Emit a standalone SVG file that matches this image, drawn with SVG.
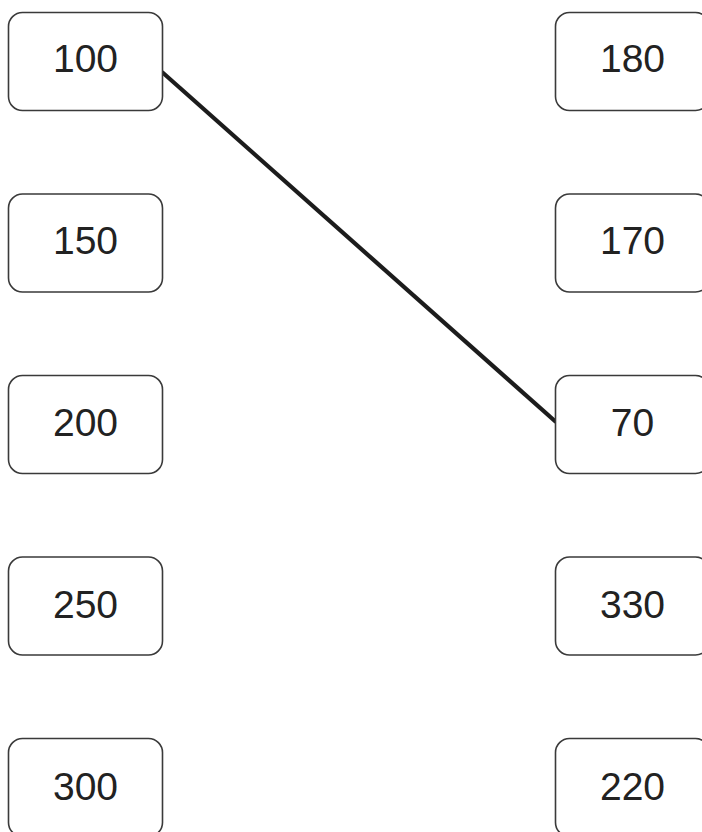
<svg xmlns="http://www.w3.org/2000/svg" width="702" height="832" viewBox="0 0 702 832">
<style>
.box{fill:#fff;stroke:#3a3a3a;stroke-width:1.6}
.lbl{font-family:"Liberation Sans",Arial,sans-serif;font-size:39px;fill:#222;text-anchor:middle}
.edge{stroke:#1c1c1c;stroke-width:4.2;fill:none}
</style>
<rect width="702" height="832" fill="#fff"/>
<g id="connectors">
<line class="edge" x1="162" y1="72" x2="556" y2="422"/>
</g>
<g id="n100"><rect class="box" x="8.5" y="12.5" width="154" height="98" rx="14"/><text class="lbl" x="85.5" y="72">100</text></g>
<g id="n150"><rect class="box" x="8.5" y="194" width="154" height="98" rx="14"/><text class="lbl" x="85.5" y="254">150</text></g>
<g id="n200"><rect class="box" x="8.5" y="375.5" width="154" height="98" rx="14"/><text class="lbl" x="85.5" y="436">200</text></g>
<g id="n250"><rect class="box" x="8.5" y="557" width="154" height="98" rx="14"/><text class="lbl" x="85.5" y="618">250</text></g>
<g id="n300"><rect class="box" x="8.5" y="738.5" width="154" height="98" rx="14"/><text class="lbl" x="85.5" y="799.5">300</text></g>
<g id="n180"><rect class="box" x="555.5" y="12.5" width="154" height="98" rx="14"/><text class="lbl" x="632.5" y="72">180</text></g>
<g id="n170"><rect class="box" x="555.5" y="194" width="154" height="98" rx="14"/><text class="lbl" x="632.5" y="254">170</text></g>
<g id="n70"><rect class="box" x="555.5" y="375.5" width="154" height="98" rx="14"/><text class="lbl" x="632.5" y="436">70</text></g>
<g id="n330"><rect class="box" x="555.5" y="557" width="154" height="98" rx="14"/><text class="lbl" x="632.5" y="618">330</text></g>
<g id="n220"><rect class="box" x="555.5" y="738.5" width="154" height="98" rx="14"/><text class="lbl" x="632.5" y="799.5">220</text></g>
</svg>
